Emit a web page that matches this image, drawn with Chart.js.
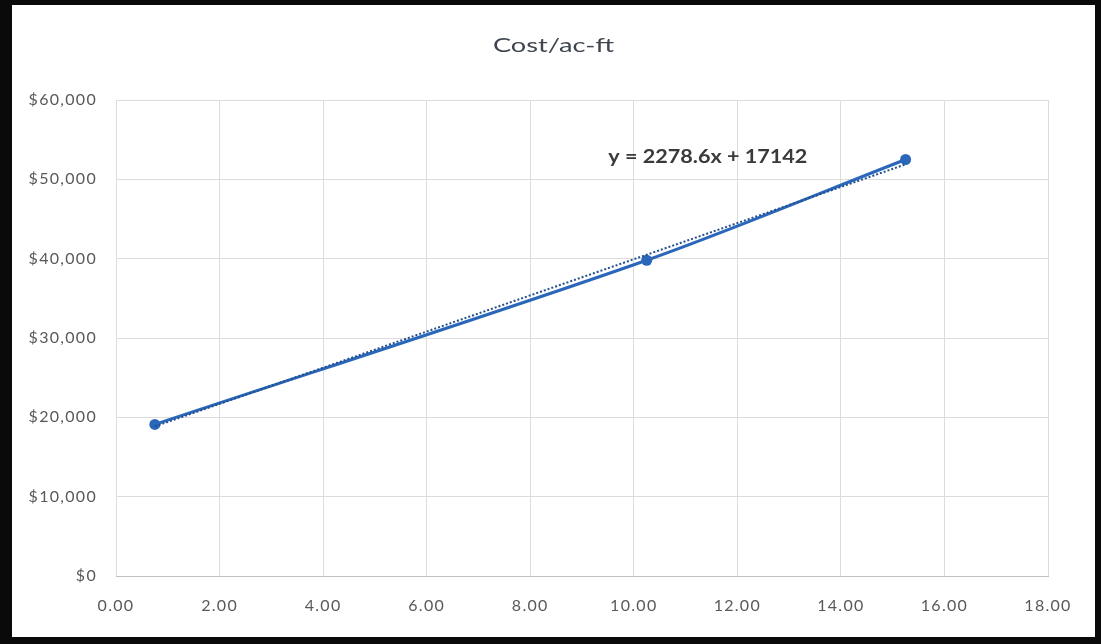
<!DOCTYPE html>
<html>
<head>
<meta charset="utf-8">
<script src="https://cdn.jsdelivr.net/npm/chart.js@4.4.1/dist/chart.umd.min.js"></script>
<style>
  html, body { margin: 0; padding: 0; background: #0a0a0a; }
  body { width: 1101px; height: 644px; position: relative; overflow: hidden; }
  #frame { position: absolute; left: 12px; top: 5px; width: 1083px; height: 632px; background: #ffffff; }
  canvas { display: block; }
</style>
</head>
<body>
<div id="frame"><canvas id="c" width="1083" height="632"></canvas></div>
<script>
// Cost per acre-foot against project size
const sizes = [0.75, 10.25, 15.25];
const costs = [19100, 39800, 52500];

// Linear fit reported on the chart
const trendSlope = 2278.6;
const trendIntercept = 17142;
const trendLabel = 'y = 2278.6x + 17142';
const chartTitle = 'Cost/ac-ft';

const xTicks = [0, 2, 4, 6, 8, 10, 12, 14, 16, 18];
const yTicks = [0, 10000, 20000, 30000, 40000, 50000, 60000];

const points = sizes.map((x, i) => ({ x: x, y: costs[i] }));
const xFirst = sizes[0], xLast = sizes[sizes.length - 1];
const trendPoints = [
  { x: xFirst, y: trendSlope * xFirst + trendIntercept },
  { x: xLast, y: trendSlope * xLast + trendIntercept }
];

const FONT = 'Lato, "Open Sans", sans-serif';

// Wide, slightly tracked lettering for the axis labels
const wideTicks = {
  id: 'wideTicks',
  beforeDraw(chart) { chart.ctx.letterSpacing = '1.3px'; },
  afterDraw(chart) { chart.ctx.letterSpacing = '0px'; }
};

// Horizontally widened text helper
function wideText(ctx, text, cx, baseY, font, color, stretch) {
  ctx.save();
  ctx.letterSpacing = '0px';
  ctx.font = font;
  ctx.fillStyle = color;
  ctx.textAlign = 'center';
  ctx.textBaseline = 'alphabetic';
  ctx.translate(cx, baseY);
  ctx.scale(stretch, 1);
  ctx.fillText(text, 0, 0);
  ctx.restore();
}

const titleAndEquation = {
  id: 'titleAndEquation',
  afterDatasetsDraw(chart) {
    const { ctx, scales, width } = chart;
    wideText(ctx, chartTitle, width / 2, 47, '20px ' + FONT, '#3f4550', 1.36);
    wideText(ctx, trendLabel,
      scales.x.getPixelForValue(11.43), scales.y.getPixelForValue(52060),
      'bold 18px ' + FONT, '#3a3a3a', 1.2);
  }
};

new Chart(document.getElementById('c'), {
  type: 'scatter',
  data: {
    datasets: [
      {
        label: 'Cost/ac-ft',
        data: points,
        showLine: true,
        tension: 0.3,
        borderColor: '#2a67ba',
        backgroundColor: '#2a67ba',
        borderWidth: 3,
        pointRadius: 5.5,
        pointBorderWidth: 0,
        order: 1
      },
      {
        label: 'Linear trend',
        data: trendPoints,
        showLine: true,
        tension: 0,
        borderColor: '#24508f',
        borderWidth: 2,
        borderDash: [2, 2],
        pointRadius: 0,
        order: 0
      }
    ]
  },
  options: {
    responsive: false,
    animation: false,
    layout: { padding: { left: 0, right: 47, top: 95, bottom: 0 } },
    plugins: {
      legend: { display: false },
      tooltip: { enabled: false },
      title: { display: false }
    },
    scales: {
      x: {
        type: 'linear',
        min: 0,
        max: 18,
        afterBuildTicks(axis) { axis.ticks = xTicks.map(v => ({ value: v })); },
        afterFit(axis) { axis.height = 61; },
        ticks: {
          color: '#595959',
          font: { family: FONT, size: 16 },
          padding: 20,
          maxRotation: 0,
          callback: v => Number(v).toFixed(2)
        },
        grid: { color: '#dcdcdc', lineWidth: 1, drawTicks: false },
        border: { color: '#bfbfbf', width: 1 }
      },
      y: {
        type: 'linear',
        min: 0,
        max: 60000,
        afterBuildTicks(axis) { axis.ticks = yTicks.map(v => ({ value: v })); },
        afterFit(axis) { axis.width = 104; },
        ticks: {
          color: '#595959',
          font: { family: FONT, size: 16 },
          padding: 19,
          callback: v => '$' + Number(v).toLocaleString('en-US')
        },
        grid: { color: '#dcdcdc', lineWidth: 1, drawTicks: false },
        border: { display: false }
      }
    }
  },
  plugins: [wideTicks, titleAndEquation]
});
</script>
</body>
</html>
